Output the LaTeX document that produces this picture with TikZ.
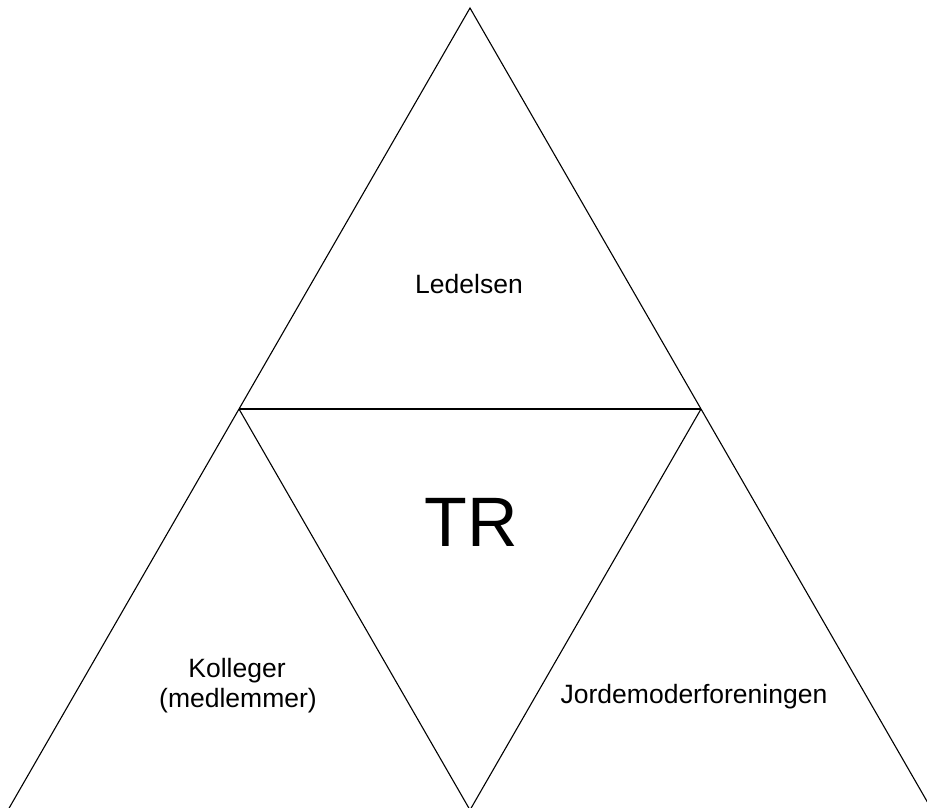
\documentclass[tikz,border=0pt]{standalone}
\usepackage{fontspec}
\setmainfont{Liberation Sans}

\begin{document}
\begin{tikzpicture}[x=1pt,y=-1pt,line width=1.1pt,label text/.style={anchor=base,inner sep=0pt,font=\fontsize{26.5}{30}\selectfont,align=center}]

            \useasboundingbox (0,0) rectangle (927,808);
            \clip (0,0) rectangle (927,808);

            \coordinate (top) at (470,8);
            \coordinate (left) at (8,810);
            \coordinate (right) at (932,810);
            \coordinate (midleft) at (239,409);
            \coordinate (midright) at (701,409);
            \coordinate (midbottom) at (470,810);

            \draw (top) -- (left) -- (right) -- cycle;
            \draw (midleft) -- (midright);
            \draw (midleft) -- (midbottom);
            \draw (midright) -- (midbottom);

            \node[label text] (ledelsen) at (469,293) {Ledelsen};
            \node[anchor=base,inner sep=0pt,font=\fontsize{70}{80}\selectfont] (tr) at (471,546) {TR};
            \node[label text] (kolleger) at (237,677) {Kolleger};
            \node[label text] (medlemmer) at (238,707) {(medlemmer)};
            \node[label text] (jordemoder) at (694,703) {Jordemoderforeningen};

        \end{tikzpicture}
\end{document}
